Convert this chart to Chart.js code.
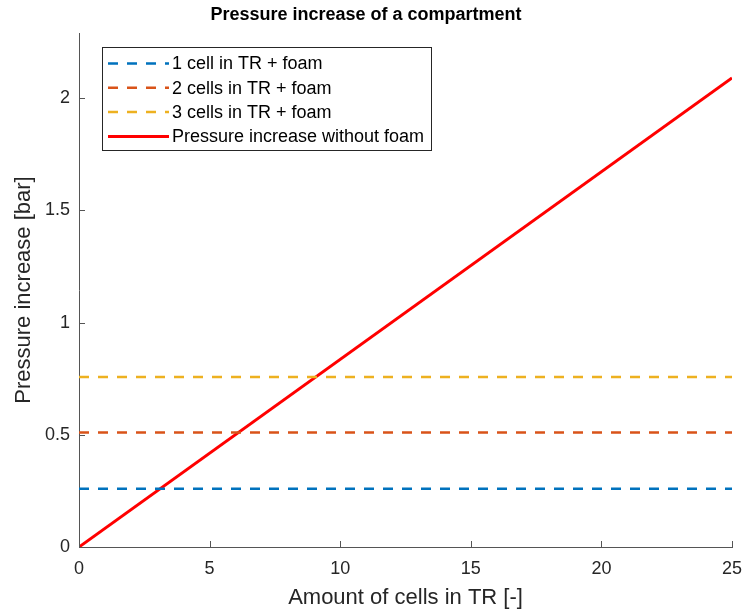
<!DOCTYPE html>
<html>
<head>
<meta charset="utf-8">
<script src="https://cdn.jsdelivr.net/npm/chart.js@4"></script>
<style>
  html, body { margin: 0; padding: 0; background: #fff; }
  canvas { display: block; }
</style>
</head>
<body>
<canvas id="pressureChart" width="745" height="613"></canvas>
<script>
// chart data
const xRange = [0, 25];
const oneCellFoam = [0.26, 0.26];
const twoCellsFoam = [0.51, 0.51];
const threeCellsFoam = [0.757, 0.757];
const noFoam = [0, 2.09];
const xTicks = [0, 5, 10, 15, 20, 25];
const yTicks = [0, 0.5, 1, 1.5, 2];
const seriesLabels = ['1 cell in TR + foam', '2 cells in TR + foam', '3 cells in TR + foam', 'Pressure increase without foam'];

const FONT = 'Liberation Sans, Arial, Helvetica, sans-serif';
const AXIS_COLOR = '#262626';

function toPoints(ys) {
    return xRange.map((x, i) => ({ x: x, y: ys[i] }));
}

// inward tick marks like MATLAB
const innerTicks = {
    id: 'innerTicks',
    afterDatasetsDraw(chart) {
        const { ctx, chartArea, scales } = chart;
        ctx.save();
        ctx.strokeStyle = '#555';
        ctx.lineWidth = 1;
        xTicks.forEach(v => {
            const px = Math.round(scales.x.getPixelForValue(v)) + 0.5;
            ctx.beginPath();
            ctx.moveTo(px, chartArea.bottom);
            ctx.lineTo(px, chartArea.bottom - 6);
            ctx.stroke();
        });
        yTicks.forEach(v => {
            const py = Math.round(scales.y.getPixelForValue(v)) + 0.5;
            ctx.beginPath();
            ctx.moveTo(chartArea.left, py);
            ctx.lineTo(chartArea.left + 6, py);
            ctx.stroke();
        });
        ctx.restore();
    }
};

// legend box in the top-left corner of the axes
const boxLegend = {
    id: 'boxLegend',
    afterDraw(chart) {
        const { ctx } = chart;
        const left = 102, top = 47, w = 329, h = 103;
        ctx.save();
        ctx.fillStyle = '#fff';
        ctx.fillRect(left, top, w, h);
        ctx.strokeStyle = AXIS_COLOR;
        ctx.lineWidth = 1;
        ctx.strokeRect(left + 0.5, top + 0.5, w, h);
        ctx.font = '18px ' + FONT;
        ctx.textBaseline = 'middle';
        chart.data.datasets.forEach((ds, i) => {
            const y = 63.5 + i * 24.3;
            ctx.strokeStyle = ds.borderColor;
            ctx.lineWidth = ds.borderWidth;
            ctx.setLineDash(ds.borderDash || []);
            ctx.beginPath();
            ctx.moveTo(108, y);
            ctx.lineTo(169, y);
            ctx.stroke();
            ctx.setLineDash([]);
            ctx.fillStyle = '#000';
            ctx.fillText(ds.label, 172, y + 1);
        });
        ctx.restore();
    }
};

const dashed = (label, ys, color) => ({
    label: label,
    data: toPoints(ys),
    borderColor: color,
    borderWidth: 2.5,
    borderDash: [10, 9],
    pointRadius: 0,
    fill: false
});

new Chart(document.getElementById('pressureChart').getContext('2d'), {
    type: 'line',
    data: {
        datasets: [
            dashed(seriesLabels[0], oneCellFoam, '#0072BD'),
            dashed(seriesLabels[1], twoCellsFoam, '#D95319'),
            dashed(seriesLabels[2], threeCellsFoam, '#EDB120'),
            {
                label: seriesLabels[3],
                data: toPoints(noFoam),
                borderColor: '#FF0000',
                borderWidth: 3,
                pointRadius: 0,
                fill: false
            }
        ]
    },
    options: {
        responsive: false,
        animation: false,
        layout: { padding: { left: 0, right: 13, top: 0, bottom: 0 } },
        plugins: {
            legend: { display: false },
            tooltip: { enabled: false },
            title: {
                display: true,
                text: 'Pressure increase of a compartment',
                color: '#000',
                font: { family: FONT, size: 18, weight: 'bold' },
                padding: { top: 4, bottom: 7.4 }
            }
        },
        scales: {
            x: {
                type: 'linear',
                min: 0,
                max: 25,
                grid: { display: false, drawTicks: false },
                border: { display: true, color: '#555', width: 1 },
                afterBuildTicks: s => { s.ticks = xTicks.map(v => ({ value: v })); },
                afterFit: s => { s.height = 66; s.paddingLeft = 0; s.paddingRight = 0; },
                ticks: {
                    color: AXIS_COLOR,
                    padding: 11,
                    maxRotation: 0,
                    font: { family: FONT, size: 18 },
                    callback: v => String(v)
                },
                title: {
                    display: true,
                    text: 'Amount of cells in TR [-]',
                    color: AXIS_COLOR,
                    font: { family: FONT, size: 22 },
                    padding: { top: 0, bottom: 2 }
                }
            },
            y: {
                type: 'linear',
                min: 0,
                max: 2.29,
                grid: { display: false, drawTicks: false },
                border: { display: true, color: '#555', width: 1 },
                afterBuildTicks: s => { s.ticks = yTicks.map(v => ({ value: v })); },
                afterFit: s => { s.width = 79; s.paddingTop = 0; s.paddingBottom = 0; },
                ticks: {
                    color: AXIS_COLOR,
                    padding: 9,
                    font: { family: FONT, size: 18 },
                    callback: v => String(v)
                },
                title: {
                    display: true,
                    text: 'Pressure increase [bar]',
                    color: AXIS_COLOR,
                    font: { family: FONT, size: 22 },
                    padding: { top: 11, bottom: 0 }
                }
            }
        }
    },
    plugins: [innerTicks, boxLegend]
});
</script>
</body>
</html>
